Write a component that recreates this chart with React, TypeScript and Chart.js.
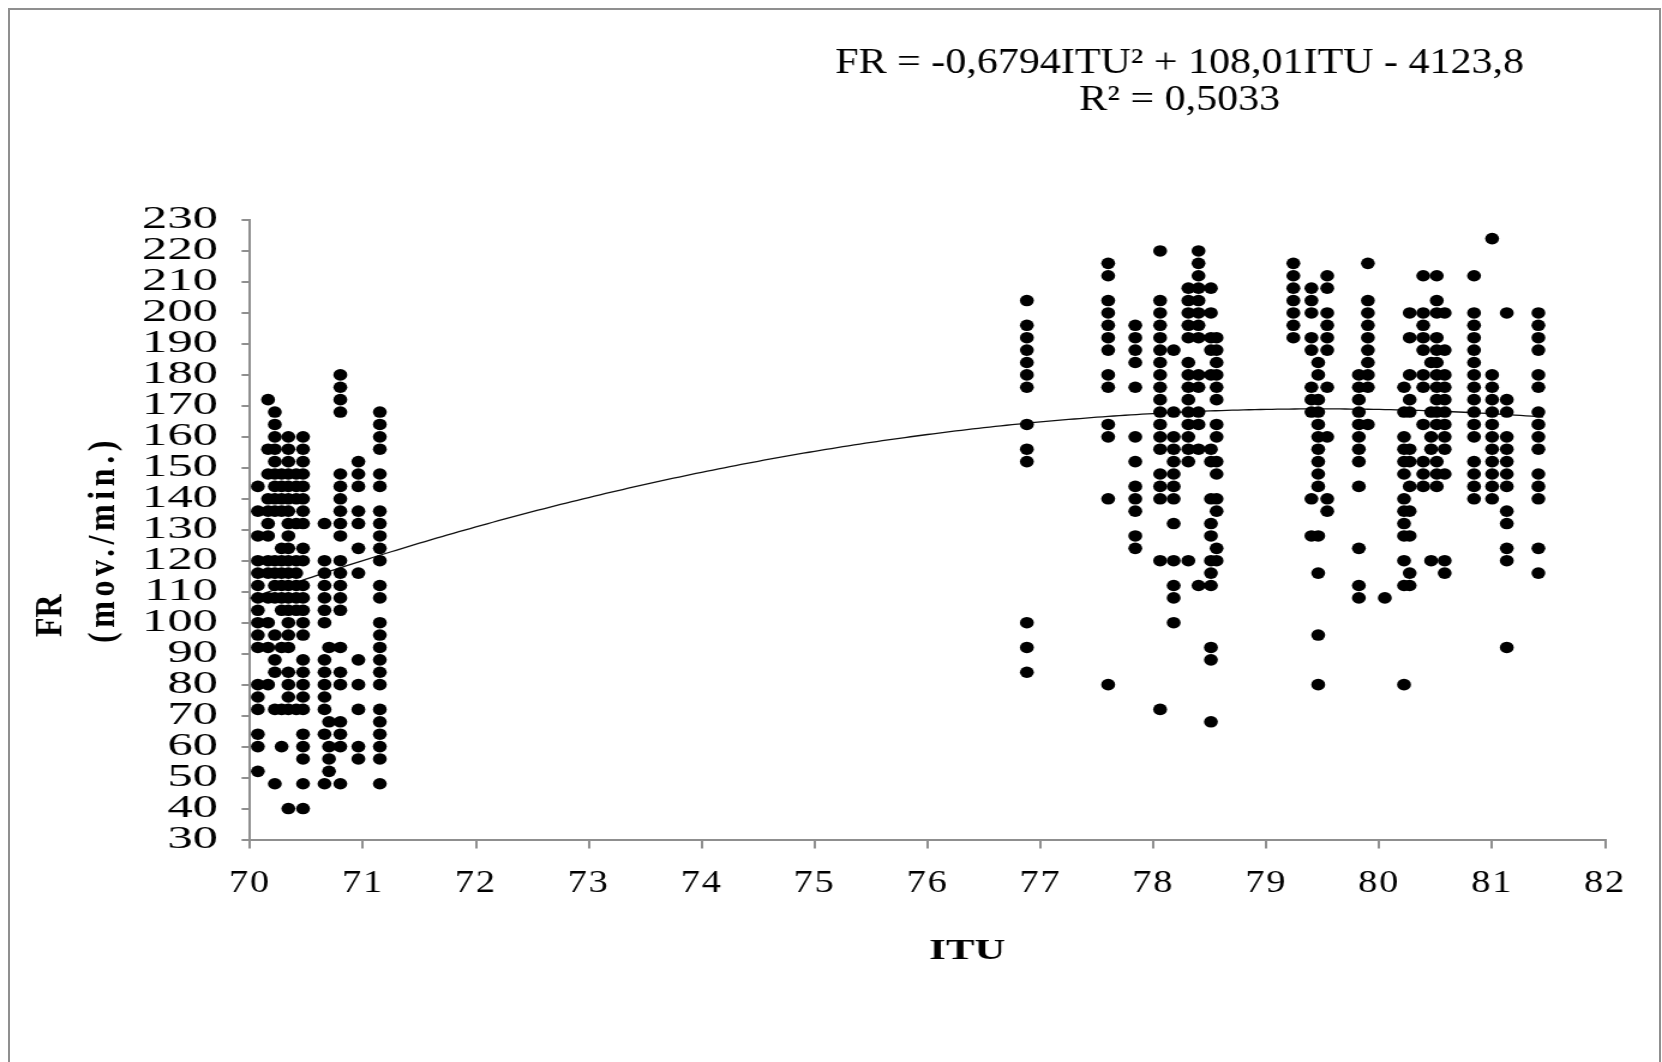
import React, { useEffect, useRef } from 'react';
import { Chart, registerables } from 'chart.js';

Chart.register(...registerables);

// ---------- axes ----------
const X_MIN = 70;
const X_MAX = 82;
const X_STEP = 1;
const Y_MIN = 30;
const Y_MAX = 230;
const Y_STEP = 10;

// ---------- texts ----------
const X_TITLE = 'ITU';
const Y_TITLE_1 = 'FR';
const Y_TITLE_2 = '(mov./min.)';
const EQ_LINE_1 = 'FR = -0,6794ITU² + 108,01ITU - 4123,8';
const EQ_LINE_2 = 'R² = 0,5033';

// ---------- regression (as printed on the chart) ----------
const TREND_A = -0.6794;
const TREND_B = 108.01;
const TREND_C = -4123.8;
const TREND_FROM = 70.0;
const TREND_TO = 81.45;

// ---------- observations: ITU column -> FR values ----------
const fr_70_07 = [144, 136, 128, 120, 116, 112, 108, 104, 100, 96, 92, 80, 76, 72, 64, 60, 52];
const fr_70_16 = [172, 156, 148, 140, 136, 132, 128, 120, 116, 108, 100, 92, 80];
const fr_70_22 = [168, 164, 160, 156, 152, 148, 144, 140, 136, 120, 116, 112, 108, 96, 88, 84, 72, 48];
const fr_70_28 = [148, 144, 140, 136, 124, 120, 116, 112, 108, 104, 92, 72, 60];
const fr_70_34 = [160, 156, 152, 148, 144, 140, 136, 132, 128, 124, 120, 116, 112, 108, 104, 100, 96, 92, 84, 80, 76, 72, 40];
const fr_70_41 = [148, 144, 140, 132, 120, 116, 112, 108, 104, 72];
const fr_70_47 = [160, 156, 152, 148, 144, 140, 136, 132, 124, 120, 112, 108, 104, 100, 96, 88, 84, 80, 76, 72, 64, 60, 56, 48, 40];
const fr_70_66 = [132, 120, 116, 112, 108, 104, 100, 88, 84, 80, 76, 72, 64, 48];
const fr_70_70 = [92, 68, 60, 56, 52];
const fr_70_80 = [180, 176, 172, 168, 148, 144, 140, 136, 132, 128, 120, 116, 112, 108, 104, 92, 84, 80, 68, 64, 60, 48];
const fr_70_96 = [152, 148, 144, 136, 132, 124, 116, 88, 80, 72, 60, 56];
const fr_71_15 = [168, 164, 160, 156, 148, 144, 136, 132, 128, 124, 120, 112, 108, 100, 96, 92, 88, 84, 80, 72, 68, 64, 60, 56, 48];

const fr_76_88 = [204, 196, 192, 188, 184, 180, 176, 164, 156, 152, 100, 92, 84];
const fr_77_60 = [216, 212, 204, 200, 196, 192, 188, 180, 176, 164, 160, 140, 80];
const fr_77_84 = [196, 192, 188, 184, 176, 160, 152, 144, 140, 136, 128, 124];
const fr_78_06 = [220, 204, 200, 196, 192, 188, 184, 180, 176, 172, 168, 164, 160, 156, 148, 144, 140, 120, 72];
const fr_78_18 = [188, 168, 160, 156, 152, 148, 144, 140, 132, 120, 112, 108, 100];
const fr_78_31 = [208, 204, 200, 196, 192, 184, 180, 176, 172, 168, 164, 160, 156, 152, 120];
const fr_78_40 = [220, 216, 212, 208, 204, 200, 196, 192, 180, 176, 168, 164, 156, 112];
const fr_78_51 = [208, 200, 192, 188, 180, 156, 152, 140, 132, 128, 120, 116, 112, 92, 88, 68];
const fr_78_56 = [192, 188, 184, 180, 176, 172, 164, 160, 152, 148, 140, 136, 124, 120];

const fr_79_24 = [216, 212, 208, 204, 200, 196, 192];
const fr_79_40 = [208, 204, 200, 192, 188, 176, 172, 168, 140, 128];
const fr_79_46 = [184, 180, 172, 168, 164, 160, 156, 152, 148, 144, 128, 116, 96, 80];
const fr_79_54 = [212, 208, 200, 196, 192, 188, 176, 160, 140, 136];
const fr_79_82 = [180, 176, 172, 168, 164, 160, 156, 152, 144, 124, 112, 108];
const fr_79_90 = [216, 204, 200, 196, 192, 188, 184, 180, 176, 164];
const fr_80_05 = [108];
const fr_80_22 = [176, 168, 160, 156, 152, 148, 140, 136, 132, 128, 120, 112, 80];
const fr_80_27 = [200, 192, 180, 172, 168, 156, 152, 144, 136, 128, 116, 112];
const fr_80_39 = [212, 200, 196, 192, 188, 180, 176, 164, 152, 148, 144];
const fr_80_46 = [184, 168, 160, 156, 120];
const fr_80_51 = [212, 204, 200, 192, 188, 184, 180, 176, 172, 168, 164, 152, 148, 144];
const fr_80_58 = [200, 188, 180, 176, 172, 168, 164, 160, 156, 148, 120, 116];
const fr_80_84 = [212, 200, 196, 192, 188, 184, 180, 176, 172, 168, 164, 160, 152, 148, 144, 140];
const fr_81_00 = [224, 180, 176, 172, 168, 164, 160, 156, 152, 148, 144, 140];
const fr_81_13 = [200, 172, 168, 160, 156, 152, 148, 144, 136, 132, 124, 120, 92];
const fr_81_41 = [200, 196, 192, 188, 180, 176, 168, 164, 160, 156, 148, 144, 140, 124, 116];

const COLUMNS: [number, number[]][] = [
  [70.07, fr_70_07], [70.16, fr_70_16], [70.22, fr_70_22], [70.28, fr_70_28],
  [70.34, fr_70_34], [70.41, fr_70_41], [70.47, fr_70_47], [70.66, fr_70_66],
  [70.70, fr_70_70], [70.80, fr_70_80], [70.96, fr_70_96], [71.15, fr_71_15],
  [76.88, fr_76_88], [77.60, fr_77_60], [77.84, fr_77_84], [78.06, fr_78_06],
  [78.18, fr_78_18], [78.31, fr_78_31], [78.40, fr_78_40], [78.51, fr_78_51],
  [78.56, fr_78_56],
  [79.24, fr_79_24], [79.40, fr_79_40], [79.46, fr_79_46], [79.54, fr_79_54],
  [79.82, fr_79_82], [79.90, fr_79_90], [80.05, fr_80_05], [80.22, fr_80_22],
  [80.27, fr_80_27], [80.39, fr_80_39], [80.46, fr_80_46], [80.51, fr_80_51],
  [80.58, fr_80_58], [80.84, fr_80_84], [81.00, fr_81_00], [81.13, fr_81_13],
  [81.41, fr_81_41],
];

// ---------- presentation ----------
const PAGE_W = 1662;
const PAGE_H = 1062;
const STRETCH = 1.2; // the reference picture is widened horizontally
const CANVAS_W = Math.round(PAGE_W / STRETCH);
const GRAY = '#8f8f8f';
const SERIF = "'Liberation Serif', 'Times New Roman', serif";
const X_TICK_SPACING = 1.5;
const Y_TICK_LEN = 7;
const Y_TICK_PAD = 19.6;
const Y_LABEL_WIDEN = 1.32;

function setSpacing(ctx: any, px: number) {
  if ('letterSpacing' in ctx) ctx.letterSpacing = `${px}px`;
}

const tickLookPlugin = {
  id: 'tickLook',
  beforeDraw(chart: any) {
    setSpacing(chart.ctx, X_TICK_SPACING);
  },
  beforeDatasetsDraw(chart: any) {
    setSpacing(chart.ctx, 0);
  },
  afterDatasetsDraw(chart: any) {
    // y tick labels (z = 1) are drawn next: widen them around their right edge
    const ctx = chart.ctx as CanvasRenderingContext2D;
    const ax = chart.scales.y.right - Y_TICK_LEN - Y_TICK_PAD;
    ctx.save();
    ctx.translate(ax, 0);
    ctx.scale(Y_LABEL_WIDEN, 1);
    ctx.translate(-ax, 0);
  },
  afterDraw(chart: any) {
    chart.ctx.restore();
  },
};

const textPlugin = {
  id: 'chartTexts',
  afterDraw(chart: any) {
    const ctx = chart.ctx as CanvasRenderingContext2D;
    setSpacing(ctx, 0);
    ctx.save();
    ctx.fillStyle = '#000';
    ctx.textBaseline = 'middle';
    ctx.textAlign = 'center';
    ctx.font = `35px ${SERIF}`;
    ctx.fillText(EQ_LINE_1, 983, 64);
    ctx.fillText(EQ_LINE_2, 983, 101);

    ctx.font = `bold 30px ${SERIF}`;
    ctx.save();
    ctx.translate(806, 951);
    ctx.scale(1.19, 1);
    ctx.fillText(X_TITLE, 0, 0);
    ctx.restore();

    ctx.textAlign = 'left';
    ctx.font = `bold 32px ${SERIF}`;
    ctx.save();
    ctx.translate(43, 637);
    ctx.rotate(-Math.PI / 2);
    ctx.fillText(Y_TITLE_1, 0, 0);
    ctx.restore();
    ctx.font = `bold 32px ${SERIF}`;
    setSpacing(ctx, 4.6);
    ctx.save();
    ctx.translate(87, 643);
    ctx.rotate(-Math.PI / 2);
    ctx.fillText(Y_TITLE_2, 0, 0);
    ctx.restore();
    ctx.restore();
    setSpacing(ctx, 0);
  },
};

export default function App() {
  const ref = useRef<HTMLCanvasElement | null>(null);

  useEffect(() => {
    if (!ref.current) return;
    const points: { x: number; y: number }[] = [];
    COLUMNS.forEach(([itu, values]) => values.forEach((v) => points.push({ x: itu, y: v })));

    const trend: { x: number; y: number }[] = [];
    for (let x = TREND_FROM; x <= TREND_TO + 1e-9; x += 0.05) {
      trend.push({ x, y: TREND_A * x * x + TREND_B * x + TREND_C });
    }

    const chart = new Chart(ref.current, {
      type: 'scatter',
      data: {
        datasets: [
          {
            data: points,
            pointRadius: 5.8,
            pointHoverRadius: 5.8,
            pointStyle: 'circle',
            backgroundColor: '#000',
            borderColor: '#000',
            borderWidth: 0,
          },
          {
            data: trend,
            showLine: true,
            pointRadius: 0,
            borderColor: '#111',
            borderWidth: 1.3,
            tension: 0,
          } as any,
        ],
      },
      options: {
        animation: false,
        responsive: false,
        devicePixelRatio: 1,
        events: [],
        layout: { padding: { left: 0, top: 220, right: 47.5, bottom: 122.5 } },
        plugins: { legend: { display: false }, tooltip: { enabled: false }, title: { display: false } },
        scales: {
          x: {
            type: 'linear',
            min: X_MIN,
            max: X_MAX,
            ticks: {
              stepSize: X_STEP,
              color: '#000',
              padding: 16,
              font: { family: SERIF, size: 32 },
              maxRotation: 0,
              autoSkip: false,
              z: 0,
            },
            grid: { drawOnChartArea: false, tickLength: 9, color: GRAY, lineWidth: 2 },
            border: { color: GRAY, width: 2 },
            afterFit: (s: any) => {
              s.height = 100;
              s.paddingLeft = 0;
              s.paddingRight = 0;
            },
          },
          y: {
            type: 'linear',
            min: Y_MIN,
            max: Y_MAX,
            ticks: {
              stepSize: Y_STEP,
              color: '#000',
              padding: Y_TICK_PAD,
              font: { family: SERIF, size: 32 },
              autoSkip: false,
              z: 1,
            },
            grid: { drawOnChartArea: false, tickLength: Y_TICK_LEN, color: GRAY, lineWidth: 2 },
            border: { color: GRAY, width: 2 },
            afterFit: (s: any) => {
              s.width = 208.3;
            },
          },
        },
      },
      plugins: [tickLookPlugin, textPlugin],
    });
    return () => chart.destroy();
  }, []);

  return (
    <div>
      <div
        style={{
          position: 'absolute',
          left: 8,
          top: 8,
          width: 1653,
          height: PAGE_H - 8,
          boxSizing: 'border-box',
          borderTop: `2px solid ${GRAY}`,
          borderLeft: `2px solid ${GRAY}`,
          borderRight: `2px solid ${GRAY}`,
        }}
      />
      <canvas
        ref={ref}
        width={CANVAS_W}
        height={PAGE_H}
        style={{ position: 'absolute', left: 0, top: 0, width: `${PAGE_W}px`, height: `${PAGE_H}px` }}
      />
    </div>
  );
}
